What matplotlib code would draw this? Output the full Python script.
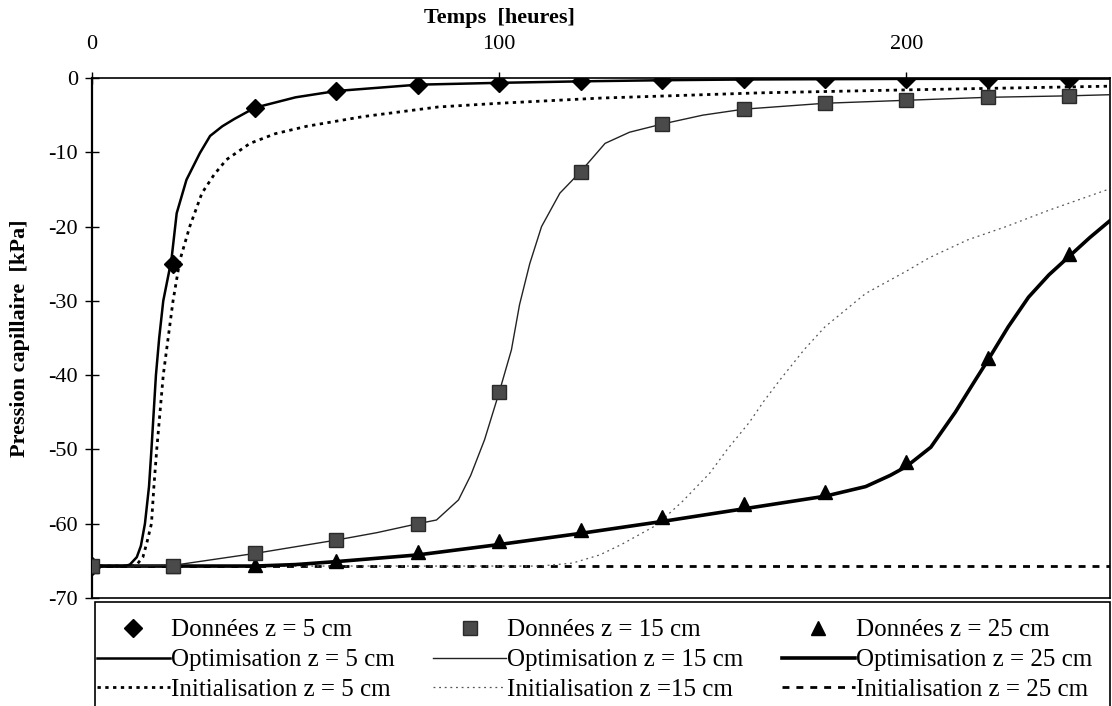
import matplotlib
matplotlib.use("Agg")
import matplotlib.pyplot as plt
from matplotlib.patches import Rectangle

plt.rcParams['font.family'] = ['Liberation Serif', 'DejaVu Serif']

# Measured data (hours, kPa)
t_data = [0, 20, 40, 60, 80, 100, 120, 140, 160, 180, 200, 220, 240]
d5 = [-65.7, -25.0, -4.0, -1.75, -0.9, -0.65, -0.4, -0.3, -0.2, -0.15, -0.1, -0.1, -0.1]
d15 = [-65.7, -65.7, -63.9, -62.2, -60.0, -42.3, -12.6, -6.2, -4.2, -3.4, -3.0, -2.6, -2.4]
d25 = [-65.7, -65.7, -65.5, -65.0, -63.8, -62.3, -60.8, -59.1, -57.3, -55.7, -51.7, -37.7, -23.7]

# Optimisation curves
t_opt5 = [0, 8, 9.3, 11, 12, 13, 14, 14.6, 15.7, 16.5, 17.5, 19.5, 20.8, 23.2, 26.5, 29, 32, 35, 40, 50, 60, 80, 100, 120, 140, 160, 200, 250]
p_opt5 = [-65.7, -65.7, -65.5, -64.5, -63, -60, -55, -50, -40, -35, -30, -24.5, -18.2, -13.7, -10.1, -7.8, -6.5, -5.5, -4.0, -2.6, -1.75, -0.9, -0.65, -0.45, -0.3, -0.2, -0.12, -0.08]

t_opt15 = [0, 10, 20, 30, 40, 50, 60, 70, 80, 84.6, 90, 93, 96.4, 100, 103, 105, 107.5, 110.4, 114.9, 120, 126, 132, 140, 150, 160, 180, 200, 220, 240, 250]
p_opt15 = [-65.7, -65.7, -65.6, -64.8, -64.0, -63.1, -62.2, -61.2, -60.0, -59.5, -56.8, -53.5, -48.7, -42.3, -36.6, -30.5, -25.0, -20.0, -15.5, -12.6, -8.8, -7.3, -6.2, -5.0, -4.2, -3.4, -3.0, -2.6, -2.4, -2.25]

t_opt25 = [0, 40, 50, 60, 80, 100, 120, 140, 160, 180, 190, 196, 200, 206, 212, 217, 220, 225, 230, 235, 240, 245, 250]
p_opt25 = [-65.7, -65.7, -65.5, -65.1, -64.2, -62.8, -61.3, -59.7, -58.0, -56.3, -55.0, -53.5, -52.3, -49.7, -45.0, -40.6, -38.0, -33.5, -29.5, -26.5, -24.0, -21.5, -19.2]

# Initialisation curves
t_ini5 = [0, 10, 11, 12.5, 13.5, 14.6, 15.2, 15.9, 17.5, 19.9, 21.6, 24, 27, 30, 33, 38.8, 45, 52.7, 66.5, 85, 100, 125, 164, 200, 250]
p_ini5 = [-65.7, -65.7, -65.5, -64.5, -62.5, -60, -55, -50, -40, -30, -24.5, -20, -15.5, -13, -11, -8.8, -7.5, -6.5, -5.2, -3.9, -3.4, -2.7, -2.0, -1.6, -1.1]

t_ini15 = [0, 110, 118, 124.7, 130, 138.6, 145, 151.7, 156, 161.5, 165, 169, 175, 180, 190, 200, 205.6, 215, 224.5, 235, 249, 250]
p_ini15 = [-65.7, -65.7, -65.3, -64.2, -62.8, -60.2, -57, -53.2, -50, -46.3, -43.5, -40.6, -36.5, -33.5, -29, -26, -24.2, -21.8, -20, -17.8, -15.1, -15.0]

t_ini25 = [0, 250]
p_ini25 = [-65.7, -65.7]

x_ticks = [0, 100, 200]
y_ticks = [0, -10, -20, -30, -40, -50, -60, -70]

labels_data = ["Données z = 5 cm", "Données z = 15 cm", "Données z = 25 cm"]
labels_opt = ["Optimisation z = 5 cm", "Optimisation z = 15 cm", "Optimisation z = 25 cm"]
labels_ini = ["Initialisation z = 5 cm", "Initialisation z =15 cm", "Initialisation z = 25 cm"]

W, H = 1112, 706
fig = plt.figure(figsize=(W / 100, H / 100), dpi=100)
ax = fig.add_axes([92 / W, 1 - 598 / H, (1110 - 92) / W, (598 - 78) / H])

# curves
l_i25, = ax.plot(t_ini25, p_ini25, color='black', lw=2.0, ls=(0, (2.5, 2.5)), zorder=2)
l_i15, = ax.plot(t_ini15, p_ini15, color='#555555', lw=0.9, ls=(0, (1.5, 3)), zorder=2)
l_i5, = ax.plot(t_ini5, p_ini5, color='black', lw=2.0, ls=(0, (1.2, 1.6)), zorder=2)
l_o25, = ax.plot(t_opt25, p_opt25, color='black', lw=2.6, zorder=3)
l_o15, = ax.plot(t_opt15, p_opt15, color='#222222', lw=1.0, zorder=3)
l_o5, = ax.plot(t_opt5, p_opt5, color='black', lw=1.8, zorder=3)

m5, = ax.plot(t_data, d5, ls='none', marker='D', ms=9, color='black', zorder=5)
m25, = ax.plot(t_data, d25, ls='none', marker='^', ms=10, color='black', zorder=5)
m15, = ax.plot(t_data, d15, ls='none', marker='s', ms=10, color='#4a4a4a',
               markeredgecolor='#2a2a2a', markeredgewidth=1.0, zorder=6)

ax.set_xlim(0, 250)
ax.set_ylim(-70, 0)
ax.xaxis.tick_top()
ax.xaxis.set_label_position('top')
ax.set_xticks(x_ticks)
ax.set_xticklabels([str(v) for v in x_ticks])
ax.set_yticks(y_ticks)
ax.set_yticklabels([str(v) for v in y_ticks])
ax.tick_params(axis='x', direction='inout', length=8, width=1.0, labelsize=16, pad=13)
ax.tick_params(axis='y', direction='inout', length=10, width=1.0, labelsize=16, pad=5)
for s in ax.spines.values():
    s.set_color('black')
    s.set_linewidth(1.2)
ax.spines['left'].set_linewidth(1.6)

ax.set_xlabel("Temps  [heures]", fontsize=16, fontweight='bold')
ax.xaxis.set_label_coords((499 - 92) / (1110 - 92), 1 + (78 - 18) / 520)
ax.xaxis.label.set_va('center')
ax.set_ylabel("Pression capillaire  [kPa]", fontsize=16, fontweight='bold')
ax.yaxis.set_label_coords(-(92 - 20) / 1018, 0.5)
ax.yaxis.label.set_va('center')

# legend frame (extends below the figure edge as in the reference)
fig.patches.append(Rectangle((95 / W, -0.05), (1110 - 95) / W, (0.05 + 1 - 602 / H),
                             transform=fig.transFigure, facecolor='white',
                             edgecolor='black', linewidth=1.2, zorder=0))

handles = [m5, l_o5, l_i5, m15, l_o15, l_i15, m25, l_o25, l_i25]
labels = [labels_data[0], labels_opt[0], labels_ini[0],
          labels_data[1], labels_opt[1], labels_ini[1],
          labels_data[2], labels_opt[2], labels_ini[2]]
leg = fig.legend(handles, labels, ncol=3, loc='upper left',
                 bbox_to_anchor=(97 / W, 1 - 619 / H, (1092 - 97) / W, 0),
                 mode='expand', frameon=False, borderaxespad=0, borderpad=0,
                 fontsize=18, handlelength=2.9, handletextpad=0.05,
                 labelspacing=0.29, columnspacing=1.0)

fig.savefig("out.png", dpi=100)
